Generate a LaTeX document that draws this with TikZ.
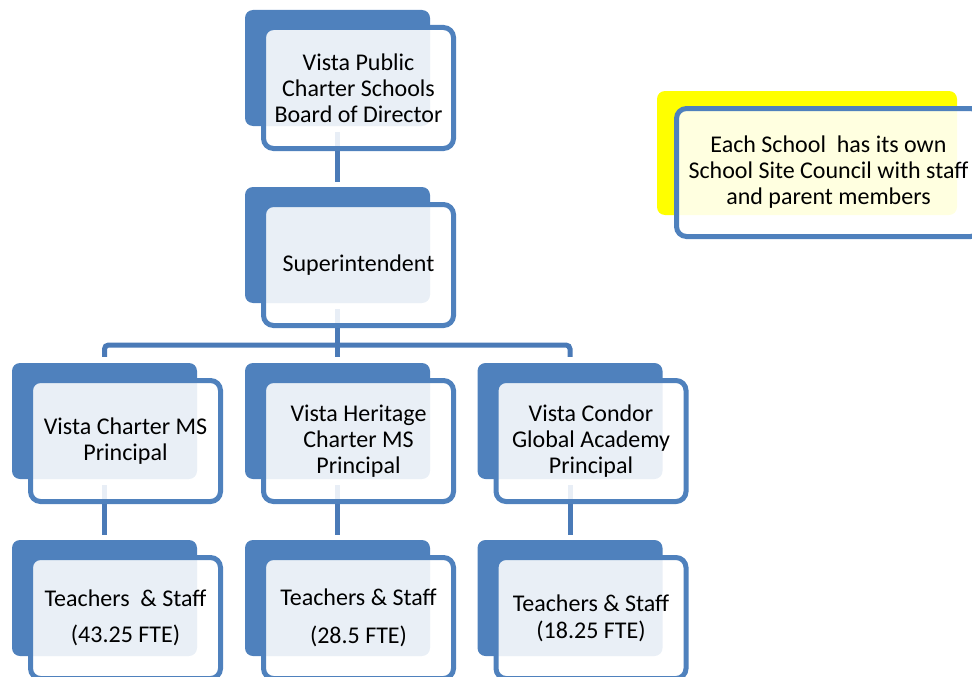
\documentclass[tikz,border=0pt]{standalone}
\usepackage{fontspec}
\setmainfont{Carlito}
\usetikzlibrary{backgrounds}
\definecolor{orgblue}{HTML}{4F81BD}
\definecolor{linkblue}{HTML}{4A7AB7}
\definecolor{noteyellow}{HTML}{FFFF00}
\begin{document}
\begin{tikzpicture}[x=1pt,y=-1pt,
  backbox/.style={fill=orgblue, rounded corners=8pt, minimum width=185pt,
    minimum height=116pt, inner sep=0pt},
  cardbox/.style={draw=orgblue, line width=5pt, fill=white, fill opacity=0.88,
    text opacity=1, rounded corners=10pt, inner sep=0pt, align=center,
    text=black, font=\fontsize{24}{26}\selectfont},
  frontbox/.style={cardbox, minimum width=190pt, minimum height=121pt,
    xshift=21pt, yshift=-20pt},
  notebackbox/.style={fill=noteyellow, rounded corners=8pt, minimum width=300pt,
    minimum height=124pt, inner sep=0pt},
  notefrontbox/.style={cardbox, minimum width=304pt, minimum height=128pt},
  link/.style={draw=linkblue, line width=5pt, shorten <=6pt, shorten >=5pt}]

\clip (0,0) rectangle (972,677);

% board and superintendent
\node[backbox] (b1) at (337.5,68) {};
\node[frontbox] (f1) at (b1) {Vista Public\\Charter Schools\\Board of Director};
\node[backbox] (b2) at (337.5,245) {};
\node[frontbox] (f2) at (b2) {Superintendent};

% principals
\node[backbox] (m1) at (104.5,421) {};
\node[frontbox] (g1) at (m1) {Vista Charter MS\\Principal};
\node[backbox] (m2) at (337.5,421) {};
\node[frontbox] (g2) at (m2) {Vista Heritage\\Charter MS\\Principal};
\node[backbox] (m3) at (570,421) {};
\node[frontbox] (g3) at (m3) {Vista Condor\\Global Academy\\Principal};

% school staff
\node[backbox] (t1) at (104.5,598) {};
\node[frontbox] (h1) at (t1) {Teachers\ \ \& Staff\\[10pt](43.25 FTE)};
\node[backbox] (t2) at (337.5,598) {};
\node[frontbox] (h2) at (t2) {Teachers \& Staff\\[12pt](28.5 FTE)};
\node[backbox] (t3) at (570,598) {};
\node[frontbox] (h3) at (t3) {Teachers \& Staff\\[1pt](18.25 FTE)};

% site council note
\node[notebackbox] (nb) at (807,153) {};
\node[notefrontbox] (nf) at (828.5,172.5) {Each School\ \ has its own\\School Site Council with staff\\and parent members};

% connectors
\coordinate (bus) at (337.5,345);
\begin{pgfonlayer}{background}
  \draw[link] (b1.south) -- (b2.north);
  \draw[link, shorten >=6pt] (b2.south) -- (m2.north);
  \draw[link, shorten <=6pt, shorten >=6pt, rounded corners=4pt]
    (m1.north) |- (bus) -| (m3.north);
  \draw[link] (m1.south) -- (t1.north);
  \draw[link] (m2.south) -- (t2.north);
  \draw[link] (m3.south) -- (t3.north);
\end{pgfonlayer}
\end{tikzpicture}
\end{document}
